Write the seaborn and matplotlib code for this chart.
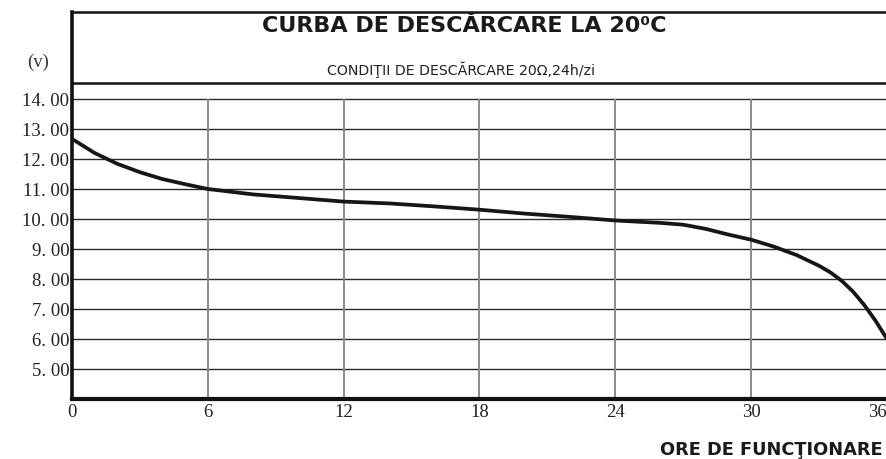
import matplotlib
matplotlib.use("Agg")
import matplotlib.pyplot as plt
import seaborn as sns

# ---- data ----
hours = [0, 1, 2, 3, 4, 5, 6, 8, 10, 12, 14, 16, 18, 20, 22, 24,
         26, 27, 28, 29, 30, 31, 32, 32.5, 33, 33.5, 34, 34.5, 35, 35.5, 36]
volts = [12.67, 12.2, 11.84, 11.56, 11.33, 11.16, 11.0, 10.82, 10.7, 10.58,
         10.52, 10.42, 10.31, 10.18, 10.07, 9.95, 9.87, 9.81, 9.67, 9.48,
         9.31, 9.08, 8.8, 8.62, 8.44, 8.22, 7.94, 7.58, 7.13, 6.6, 6.0]
x_ticks = [0, 6, 12, 18, 24, 30, 36]
x_tick_labels = ["0", "6", "12", "18", "24", "30", "36"]
y_ticks = [5, 6, 7, 8, 9, 10, 11, 12, 13, 14]
y_tick_labels = ["5. 00", "6. 00", "7. 00", "8. 00", "9. 00", "10. 00",
                 "11. 00", "12. 00", "13. 00", "14. 00"]
title = "CURBA DE DESCĂRCARE LA 20\u2070C"
subtitle = "CONDIŢII DE DESCĂRCARE 20Ω,24h/zi"
x_label = "ORE DE FUNCŢIONARE"
y_unit = "(v)"

sns.set_style("white")
plt.rcParams['font.family'] = ['DejaVu Sans']

W, H = 887, 460
fig = plt.figure(figsize=(W / 100, H / 100), dpi=100)
ax = fig.add_axes([72 / W, 60 / H, (W - 72) / W, (400 - 13) / H])

ymax = 4 + 387 / 30.0
ax.set_xlim(0, 36)
ax.set_ylim(4, ymax)

# grid
ax.hlines(y_ticks, 0, 36, color="#2a2a2a", lw=1.0, zorder=1)
ax.vlines(x_ticks[1:], 4, 14, color="#8a8a8a", lw=1.4, zorder=1)
ax.axhline(4 + 316 / 30.0, color="#111111", lw=1.8, zorder=2)

sns.lineplot(x=hours, y=volts, ax=ax, color="#1c1414", lw=2.7, zorder=3)

serif = "Liberation Serif"
ax.set_xticks(x_ticks)
ax.set_xticklabels(x_tick_labels, family=serif, fontsize=13.5, color="#222222")
ax.get_xticklabels()[-1].set_horizontalalignment("right")
ax.set_yticks(y_ticks)
ax.set_yticklabels(y_tick_labels, family=serif, fontsize=13.5, color="#222222")
ax.tick_params(axis="both", length=0)
ax.tick_params(axis="y", pad=2)
ax.tick_params(axis="x", pad=3)

ax.spines["right"].set_visible(False)
ax.spines["left"].set_linewidth(2.6)
ax.spines["bottom"].set_linewidth(3.0)
ax.spines["top"].set_linewidth(1.8)
for s in ["left", "bottom", "top"]:
    ax.spines[s].set_color("#111111")

fig.text(464 / W, (H - 32) / H, title, ha="center", va="baseline",
         fontsize=16, fontweight="bold", color="#1a1a1a")
fig.text(461 / W, (H - 75) / H, subtitle, ha="center", va="baseline",
         fontsize=10.2, color="#222222")
fig.text(38 / W, (H - 62) / H, y_unit, ha="center", va="center",
         family=serif, fontsize=13.5, color="#333333")
fig.text(660 / W, 5 / H, x_label, ha="left", va="baseline",
         fontsize=12.8, fontweight="bold", color="#1a1a1a")

fig.savefig("out.png", dpi=100)
